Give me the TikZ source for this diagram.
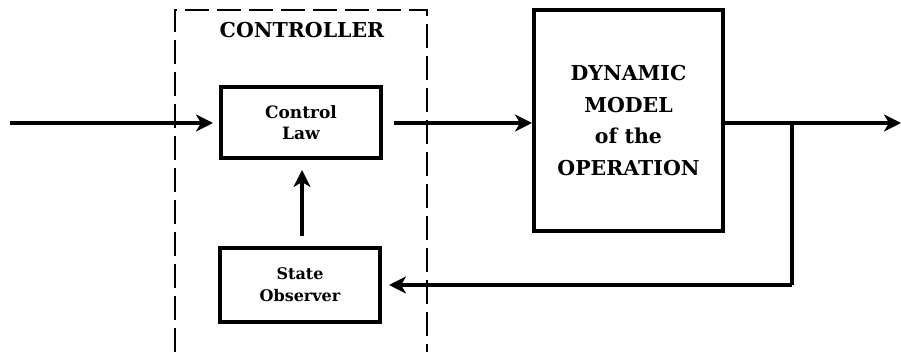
\documentclass[tikz,border=0pt]{standalone}
\usepackage{fontspec}
\setmainfont{DejaVu Serif}
\usetikzlibrary{arrows.meta}
\begin{document}
\begin{tikzpicture}[x=1pt,y=1pt,
  block/.style={draw,line width=4pt,align=center,inner sep=0pt},
  flow/.style={line width=3.5pt,-{Stealth[length=17pt,width=17pt,inset=5pt]}},
  wire/.style={line width=3.5pt},
  frame/.style={line width=1.3pt,dash pattern=on 24pt off 8pt}]
\useasboundingbox (0,0) rectangle (901,352);
% controller frame (open at the bottom)
\draw[frame] (175,0) -- (175,342) -- (427,342) -- (427,0);
\node[font=\bfseries\fontsize{20.5}{24}\selectfont] (ttl) at (302,322) {CONTROLLER};
% blocks
\node[block,minimum width=160pt,minimum height=71pt,font=\bfseries\fontsize{17}{21}\selectfont] (cl) at (301,229.5) {Control\\Law};
\node[block,minimum width=160pt,minimum height=74pt,font=\bfseries\fontsize{16}{22}\selectfont] (so) at (300,67) {State\\Observer};
\node[block,minimum width=189pt,minimum height=221pt,font=\bfseries\fontsize{20.5}{31.5}\selectfont] (dm) at (628.5,231.5) {DYNAMIC\\MODEL\\of the\\OPERATION};
% signal paths
\coordinate (in) at (10,229);
\coordinate (out) at (901,229);
\coordinate (br) at (792,229);
\draw[flow,shorten >=6pt] (in) -- (cl.west |- in);
\draw[flow,shorten <=11pt] (cl.east |- in) -- (dm.west |- in);
\draw[flow] (dm.east |- in) -- (out);
\draw[flow,shorten <=10pt,shorten >=10pt] (so.north -| 302,0) -- (cl.south -| 302,0);
\draw[wire] (br) -- (br |- so.east);
\draw[flow,shorten >=7pt] (br |- so.east) -- (so.east);
\end{tikzpicture}
\end{document}
